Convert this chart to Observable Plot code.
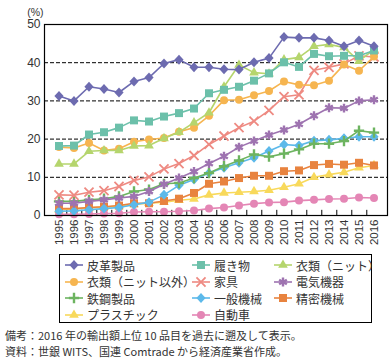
<!DOCTYPE html>
<html><head><meta charset="utf-8">
<script src="https://cdn.jsdelivr.net/npm/d3@7"></script>
<script src="https://cdn.jsdelivr.net/npm/@observablehq/plot@0.6"></script>
<style>
body{margin:0;background:#fff;font-family:"Noto Sans CJK JP",sans-serif;}
#wrap{position:relative;width:391px;height:363px;}
#legend{position:absolute;left:59px;top:254px;width:313px;height:69px;border:1px solid #000;box-sizing:border-box;}
.item{position:absolute;height:14px;display:flex;align-items:center;font-size:12px;color:#333;white-space:nowrap;}
.item svg{margin-right:3px;}
#notes{position:absolute;left:5px;top:327px;font-size:11px;line-height:16px;color:#333;}
#notes div{height:16px;}
</style></head>
<body><div id="wrap"><div id="chart"></div><div id="legend"></div><div id="notes"></div></div>
<script>
const years = d3.range(1995, 2017).map(String);
const names = ["皮革製品","履き物","衣類（ニット）","衣類（ニット以外）","家具","電気機器","鉄鋼製品","一般機械","精密機械","プラスチック","自動車"];
const colors = ["#6d6bb0","#6cc0aa","#b5d56d","#f6b550","#ee8a82","#9e73b0","#6db460","#5cb9ea","#e8833f","#f8d95b","#e486b5"];
const leather   = [31.3,30.0,33.7,33.1,32.2,35.1,36.1,39.8,40.8,38.8,38.8,38.3,38.2,40.1,41.2,46.7,46.5,46.5,45.8,44.3,45.8,44.3];
const footwear  = [18.2,18.3,21.2,21.8,23.0,24.9,24.6,25.9,26.8,28.0,32.0,32.9,33.7,35.3,37.2,40.1,38.9,42.3,41.7,41.8,41.8,43.2];
const knit      = [13.5,13.5,16.8,17.0,17.0,18.2,18.3,20.2,21.8,24.3,26.9,33.7,39.4,37.4,37.1,40.8,41.4,44.3,44.8,44.0,40.4,43.5];
const nonknit   = [17.9,17.7,19.0,17.0,17.5,19.3,19.9,20.3,21.9,23.0,26.1,30.2,30.3,31.5,32.6,35.1,34.2,34.1,35.3,39.5,37.9,41.6];
const furniture = [5.4,5.3,6.1,6.5,7.6,9.2,10.1,12.2,13.6,15.7,18.6,20.8,23.0,24.7,27.5,31.1,31.6,38.0,38.8,39.7,41.8,41.5];
const electric  = [3.2,3.2,3.7,4.1,4.6,5.0,6.3,8.2,9.8,11.5,13.6,15.5,17.9,19.5,21.1,22.4,23.9,26.1,28.2,28.1,30.0,30.3];
const steel     = [3.7,3.7,4.1,4.4,5.0,6.3,6.8,8.3,8.5,9.8,11.1,12.9,14.4,16.0,15.4,16.2,17.3,18.8,18.8,19.5,22.2,21.7];
const machinery = [1.1,1.2,1.5,1.8,2.1,2.8,3.5,5.4,7.9,9.4,11.1,12.5,13.8,15.1,16.9,18.6,18.3,19.6,19.8,20.2,20.6,20.6];
const precision = [1.8,1.8,2.1,2.3,2.6,3.2,3.2,3.8,4.4,5.9,8.3,8.9,9.8,10.4,10.4,11.6,11.8,13.2,13.5,13.3,13.8,13.1];
const plastic   = [1.5,1.7,2.0,2.2,2.4,2.9,3.2,3.5,4.0,4.3,5.4,5.9,6.1,6.3,6.6,7.4,8.3,10.0,10.7,11.3,12.5,13.1];
const auto      = [0.3,0.3,0.4,0.5,0.6,0.9,1.0,1.0,1.1,1.3,1.8,2.1,2.6,3.1,3.4,3.5,3.9,4.1,4.3,4.4,4.7,4.6];
const series = [leather,footwear,knit,nonknit,furniture,electric,steel,machinery,precision,plastic,auto];
const yTicks = [0,10,20,30,40,50];
const gridVals = [10,20,30,40];
const notes = ["備考：2016 年の輸出額上位 10 品目を過去に遡及して表示。","資料：世銀 WITS、国連 Comtrade から経済産業省作成。"];

const diamond = {draw(ctx){ctx.moveTo(0,-5);ctx.lineTo(4.6,0);ctx.lineTo(0,5);ctx.lineTo(-4.6,0);ctx.closePath();}};
const markers = [
  [diamond,4,true,0],["square",4.5,true,0],["triangle",3.6,true,0],["circle",4,true,0],
  ["times",4.2,false,1.8],["asterisk",4.2,false,2.4],["plus",3.4,false,2.4],
  [diamond,4,true,0],["square",4.5,true,0],["triangle",3.6,true,0],["circle",4,true,0]
];

const rows = [];
series.forEach((vals,i)=>vals.forEach((v,j)=>rows.push({name:names[i],idx:i,year:years[j],value:v})));

const W=391,H=252,mL=44,mR=4,mT=24,mB=37;
const bw=(W-mL-mR)/years.length;
const numFont="'Liberation Sans',sans-serif";
const marks=[
  Plot.ruleY(gridVals,{stroke:"#000",strokeWidth:1,strokeDasharray:"4,2"}),
  Plot.ruleX(years.slice(0,-1),{x:d=>d,y1:0,y2:1.35,dx:bw/2,stroke:"#000",strokeWidth:1}),
];
for(let i=names.length-1;i>=0;i--){
  const d=rows.filter(r=>r.idx===i);
  const [sym,r,filled,sw]=markers[i];
  marks.push(Plot.line(d,{x:"year",y:"value",stroke:colors[i],strokeWidth:1.6}));
  marks.push(Plot.dot(d,filled?{x:"year",y:"value",symbol:()=>sym,r,fill:colors[i],stroke:"none"}
                               :{x:"year",y:"value",symbol:()=>sym,r,stroke:colors[i],strokeWidth:sw,fill:"none"}));
}
marks.push(Plot.frame({stroke:"#000",strokeWidth:1.2}));
marks.push(Plot.axisY({ticks:yTicks,tickSize:0,tickPadding:4,fontSize:12,label:null,color:"#333",fontFamily:numFont}));
marks.push(Plot.axisX({tickRotate:-90,tickSize:0,tickPadding:4,fontSize:11.5,label:null,color:"#333",fontFamily:numFont}));
marks.push(Plot.text(["(%)"],{text:d=>d,frameAnchor:"top-left",dx:-1,dy:-16,textAnchor:"end",fontSize:10.5,fill:"#333",fontFamily:numFont}));

const chart=Plot.plot({
  width:W,height:H,marginLeft:mL,marginRight:mR,marginTop:mT,marginBottom:mB,
  style:{fontFamily:"'Noto Sans CJK JP',sans-serif",background:"#fff"},
  x:{type:"band",domain:years,padding:0},
  y:{domain:[0,50]},
  symbol:{type:"identity"},
  marks
});
document.getElementById("chart").appendChild(chart);

const symMap={square:d3.symbolSquare,triangle:d3.symbolTriangle,circle:d3.symbolCircle,times:d3.symbolTimes,asterisk:d3.symbolAsterisk,plus:d3.symbolPlus};
const colX=[4,131,213], rowY=[3,19.5,36,52.5];
const legend=d3.select("#legend");
names.forEach((n,i)=>{
  const it=legend.append("div").attr("class","item").style("left",colX[i%3]+"px").style("top",rowY[Math.floor(i/3)]+"px");
  const s=it.append("svg").attr("width",20).attr("height",14);
  s.append("line").attr("x1",1).attr("x2",19).attr("y1",7).attr("y2",7).attr("stroke",colors[i]).attr("stroke-width",1.6);
  const [sym,r,filled,sw]=markers[i];
  const path=d3.symbol(typeof sym==="string"?symMap[sym]:sym,Math.PI*r*r)();
  const p=s.append("path").attr("d",path).attr("transform","translate(10,7)");
  if(filled) p.attr("fill",colors[i]); else p.attr("fill","none").attr("stroke",colors[i]).attr("stroke-width",sw);
  it.append("span").text(n);
});
d3.select("#notes").selectAll("div").data(notes).join("div").text(d=>d);
</script></body></html>
